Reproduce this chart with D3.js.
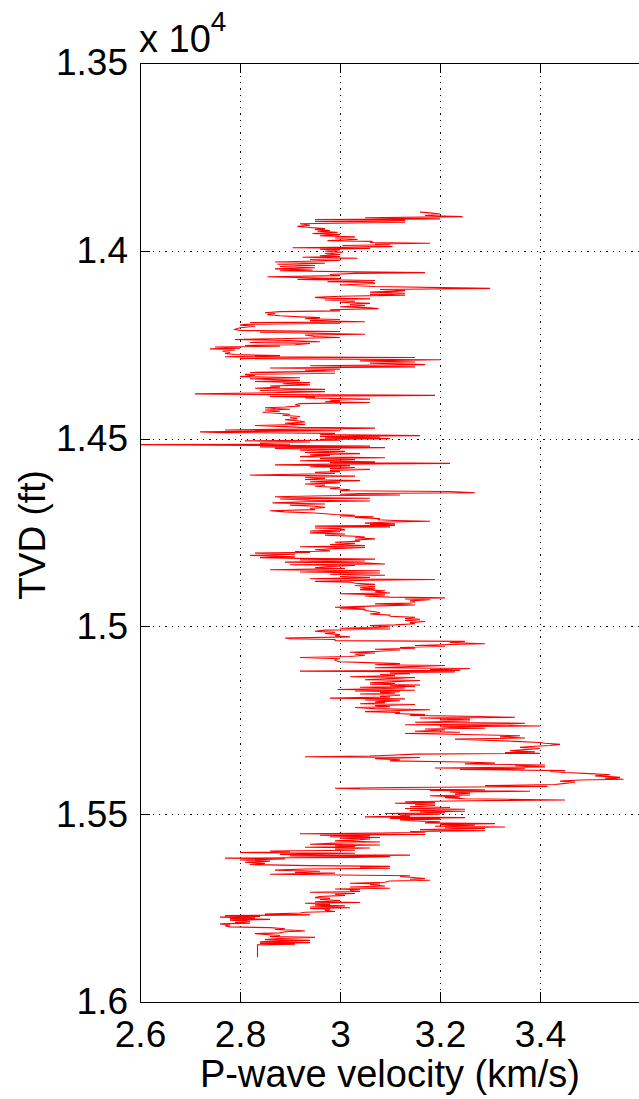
<!DOCTYPE html>
<html>
<head>
<meta charset="utf-8">
<script src="https://cdn.jsdelivr.net/npm/d3@7"></script>
<style>
  html, body { margin: 0; padding: 0; background: #fff; overflow: hidden; }
  svg { display: block; font-family: "Liberation Sans", Arial, Helvetica, sans-serif; }
</style>
</head>
<body>
<svg id="chart" width="639" height="1099"></svg>
<script>
// Axis tick values
const xTicks = [2.6, 2.8, 3.0, 3.2, 3.4];
const yTicks = [13500, 14000, 14500, 15000, 15500, 16000];
const xLabel = "P-wave velocity (km/s)";
const yLabel = "TVD (ft)";

// Sonic log samples: [true vertical depth (ft), P-wave velocity (km/s)]
const logSamples = [
  [13897,3.16],[13899,3.18],[13902,3.20],[13906,3.17],[13909,3.245],[13912,3.05],[13915,3.20],[13917,2.95],
  [13919,3.13],[13922,2.95],[13924,3.13],[13928,2.92],[13932,2.94],[13935,2.915],[13938,2.94],[13941,2.97],
  [13943,2.95],[13946,2.98],[13948,2.955],[13951,2.995],[13954,2.945],[13957,3.0],[13960,2.96],[13963,3.03],
  [13966,2.99],[13970,3.035],[13973,2.975],[13975,3.065],[13978,3.06],[13980,3.18],[13982,3.07],[13984,3.1],
  [13986,3.005],[13989,3.105],[13992,2.905],[13994,3.06],[13996,2.96],[13998,3.0],[14001,2.97],[14004,3.005],
  [14007,2.97],[14010,3.0],[14013,2.96],[14015,3.0],[14017,2.925],[14020,3.035],[14023,2.94],[14026,3.0],
  [14030,2.87],[14033,2.97],[14036,2.875],[14039,2.95],[14042,2.88],[14045,2.95],[14048,2.87],[14051,2.945],
  [14053,2.88],[14056,3.03],[14058,3.17],[14060,3.03],[14063,2.98],[14066,3.0],[14069,2.855],[14071,2.915],
  [14074,3.0],[14076,2.915],[14079,3.07],[14082,2.975],[14084,3.065],[14087,3.07],[14091,3.0],[14095,3.07],
  [14100,3.3],[14103,3.08],[14106,3.13],[14108,3.11],[14110,3.06],[14113,3.13],[14116,3.06],[14118,3.13],
  [14121,3.0],[14124,2.95],[14126,2.97],[14128,3.06],[14131,2.97],[14134,3.03],[14137,3.0],[14140,3.06],
  [14143,3.02],[14146,3.05],[14149,3.0],[14152,3.06],[14154,3.077],[14157,2.98],[14160,3.0],[14162,2.88],
  [14165,2.85],[14167,2.87],[14170,2.855],[14173,2.88],[14176,2.92],[14178,2.96],[14181,2.93],[14183,3.0],
  [14186,2.94],[14189,3.05],[14191,2.82],[14193,3.0],[14196,2.81],[14198,2.80],[14201,2.83],[14205,2.80],
  [14209,2.79],[14212,2.8],[14215,3.0],[14217,2.84],[14220,2.97],[14222,3.05],[14224,2.93],[14228,2.95],
  [14231,3.0],[14234,2.87],[14236,2.79],[14239,2.9],[14242,2.96],[14244,2.82],[14247,2.94],[14250,2.91],
  [14252,2.81],[14254,2.88],[14256,2.75],[14259,2.80],[14261,2.74],[14264,2.79],[14267,2.765],[14270,2.78],
  [14273,2.77],[14276,2.79],[14279,2.88],[14282,2.77],[14284,3.15],[14287,2.8],[14290,3.2],[14293,3.04],
  [14296,3.15],[14299,3.06],[14301,3.12],[14303,3.17],[14306,2.94],[14309,3.15],[14312,2.86],[14315,3.0],
  [14318,2.93],[14320,2.99],[14324,2.82],[14326,2.99],[14329,2.81],[14332,2.83],[14335,2.80],[14338,2.92],
  [14341,2.82],[14345,2.92],[14348,2.83],[14351,2.94],[14354,2.885],[14357,2.94],[14360,2.86],[14363,2.88],
  [14366,2.83],[14369,2.97],[14372,2.84],[14375,2.97],[14378,2.86],[14381,2.71],[14383,2.86],[14384,3.10],
  [14385,3.19],[14388,2.86],[14390,2.95],[14392,2.93],[14395,3.06],[14398,2.98],[14400,3.0],[14402,2.97],
  [14404,3.06],[14407,2.92],[14410,2.91],[14413,2.92],[14416,2.89],[14418,2.85],[14420,2.87],[14422,2.9],
  [14424,2.85],[14427,2.88],[14430,2.845],[14433,2.88],[14435,2.9],[14438,2.885],[14441,2.92],[14444,2.9],
  [14447,2.915],[14450,2.89],[14453,2.92],[14456,2.93],[14459,2.89],[14462,2.93],[14465,2.83],[14468,2.89],
  [14470,2.92],[14472,3.07],[14474,2.97],[14477,2.77],[14479,3.0],[14482,2.72],[14484,2.77],[14486,2.99],
  [14489,2.96],[14492,3.16],[14494,2.96],[14496,3.08],[14498,2.97],[14500,3.1],[14502,2.96],[14504,3.0],
  [14506,2.81],[14509,2.94],[14512,2.84],[14515,2.9],[14516,2.55],[14518,2.84],[14520,3.06],[14522,2.84],
  [14524,3.09],[14526,2.87],[14529,3.0],[14531,2.92],[14534,3.01],[14537,2.93],[14540,3.04],[14543,2.94],
  [14545,2.98],[14548,2.92],[14551,3.09],[14553,2.96],[14556,3.03],[14559,2.92],[14562,3.07],[14564,2.98],
  [14566,3.22],[14568,2.99],[14570,2.87],[14572,3.02],[14575,2.94],[14577,3.03],[14580,2.98],[14582,3.06],
  [14585,2.98],[14588,3.0],[14590,2.95],[14593,2.99],[14597,2.82],[14600,3.03],[14603,2.93],[14606,2.97],
  [14609,2.93],[14612,3.04],[14615,2.94],[14618,3.0],[14621,2.93],[14624,2.97],[14627,2.95],[14630,3.0],
  [14633,2.98],[14636,3.02],[14639,3.0],[14641,3.22],[14644,3.27],[14646,3.04],[14648,3.0],[14650,3.12],
  [14652,2.97],[14655,2.87],[14657,2.89],[14659,3.06],[14661,2.88],[14664,2.94],[14666,3.06],[14668,2.93],
  [14671,2.865],[14674,2.97],[14677,2.9],[14680,2.95],[14683,2.97],[14686,2.94],[14689,2.95],[14692,2.86],
  [14695,2.89],[14698,2.95],[14700,2.97],[14702,2.99],[14704,3.03],[14706,3.0],[14708,3.067],[14710,3.03],
  [14713,3.08],[14716,3.075],[14718,3.11],[14720,3.18],[14722,3.1],[14725,3.05],[14727,3.11],[14729,3.06],
  [14731,3.11],[14733,2.95],[14735,3.1],[14738,2.95],[14740,3.0],[14743,3.01],[14746,2.94],[14748,3.0],
  [14751,2.94],[14754,3.01],[14757,2.97],[14760,3.03],[14762,3.05],[14764,3.03],[14767,3.07],[14770,3.03],
  [14773,3.04],[14776,2.99],[14779,3.03],[14782,2.98],[14785,3.05],[14788,2.92],[14790,3.05],[14793,2.99],
  [14796,2.95],[14799,2.98],[14801,2.91],[14803,2.94],[14805,2.83],[14808,2.91],[14811,2.82],[14813,2.87],
  [14815,2.91],[14817,2.84],[14819,2.92],[14821,3.07],[14823,2.92],[14826,3.05],[14829,2.89],[14831,3.045],
  [14834,3.09],[14836,2.9],[14838,3.03],[14841,2.97],[14844,2.95],[14846,3.01],[14849,2.86],[14852,3.08],
  [14855,2.92],[14858,3.08],[14861,2.98],[14864,3.09],[14867,3.0],[14870,3.06],[14873,2.94],[14875,3.19],
  [14877,3.06],[14880,2.95],[14882,3.02],[14885,3.03],[14888,3.07],[14891,3.03],[14894,3.07],[14897,3.04],
  [14900,3.07],[14902,3.04],[14905,3.09],[14908,3.07],[14911,3.1],[14913,3.0],[14916,3.09],[14919,3.05],
  [14922,3.1],[14924,3.21],[14927,3.13],[14929,3.18],[14932,3.14],[14935,3.15],[14938,3.14],[14940,3.07],
  [14943,3.15],[14946,3.06],[14949,2.99],[14951,3.05],[14953,3.0],[14955,3.05],[14958,3.05],[14961,3.07],
  [14964,3.08],[14967,3.06],[14970,3.1],[14973,3.1],[14976,3.15],[14979,3.13],[14981,3.16],[14984,3.13],
  [14987,3.17],[14990,3.14],[14993,3.15],[14996,3.11],[14998,3.06],[15001,3.1],[15003,3.07],[15005,3.0],
  [15007,3.1],[15010,2.97],[15013,2.95],[15016,2.99],[15019,2.97],[15022,3.0],[15025,2.99],[15028,3.02],
  [15031,2.89],[15033,2.9],[15035,2.99],[15038,2.99],[15040,3.25],[15043,3.22],[15046,3.29],[15048,3.22],
  [15051,3.15],[15053,3.21],[15056,3.12],[15058,3.15],[15061,3.07],[15063,3.12],[15066,3.08],[15069,3.02],
  [15071,3.07],[15074,3.03],[15077,3.05],[15080,3.02],[15083,2.92],[15086,3.0],[15088,2.99],[15091,2.99],
  [15094,3.0],[15097,3.07],[15099,3.12],[15102,3.07],[15104,3.21],[15107,3.14],[15110,3.07],[15112,3.26],
  [15115,3.18],[15117,3.24],[15119,2.92],[15121,3.23],[15124,3.1],[15126,3.14],[15128,3.08],[15131,3.11],
  [15134,3.02],[15136,3.15],[15139,3.1],[15142,3.05],[15144,3.16],[15147,3.11],[15150,3.06],[15152,3.11],
  [15154,3.06],[15156,3.16],[15158,3.1],[15160,3.15],[15162,3.04],[15164,3.13],[15166,3.07],[15168,2.995],
  [15170,3.15],[15172,3.03],[15174,3.12],[15176,3.08],[15178,3.11],[15180,3.04],[15183,3.12],[15186,3.08],
  [15188,3.1],[15191,2.98],[15193,3.13],[15196,3.05],[15198,3.12],[15201,3.07],[15203,3.09],[15206,3.04],
  [15208,3.15],[15211,3.07],[15214,3.1],[15216,3.03],[15219,3.07],[15222,3.18],[15224,3.12],[15227,3.05],
  [15229,3.12],[15232,3.11],[15235,3.17],[15237,3.14],[15240,3.28],[15242,3.35],[15244,3.16],[15247,3.26],
  [15249,3.2],[15252,3.26],[15255,3.15],[15258,3.37],[15260,3.34],[15262,3.13],[15265,3.4],[15267,3.2],
  [15269,3.22],[15271,3.29],[15273,3.17],[15276,3.21],[15279,3.15],[15282,3.24],[15285,3.13],[15288,3.25],
  [15291,3.36],[15294,3.32],[15297,3.37],[15300,3.23],[15303,3.29],[15306,3.35],[15309,3.4],[15311,3.41],
  [15314,3.44],[15317,3.42],[15319,3.39],[15322,3.36],[15325,3.4],[15328,3.37],[15331,3.34],[15334,3.39],
  [15336,3.33],[15338,3.4],[15340,3.15],[15343,3.1],[15345,3.06],[15347,2.93],[15349,3.16],[15352,3.07],
  [15355,3.12],[15358,3.1],[15361,3.25],[15364,3.31],[15366,3.25],[15369,3.41],[15371,3.35],[15374,3.41],
  [15377,3.19],[15379,3.37],[15381,3.24],[15384,3.45],[15386,3.42],[15389,3.45],[15392,3.5],[15395,3.54],
  [15398,3.51],[15400,3.54],[15402,3.56],[15404,3.53],[15407,3.567],[15409,3.48],[15412,3.44],[15415,3.47],
  [15418,3.45],[15421,3.43],[15424,3.29],[15426,3.415],[15429,3.12],[15431,2.99],[15433,3.04],[15435,3.29],
  [15437,3.18],[15439,3.38],[15441,3.22],[15444,3.26],[15446,3.23],[15449,3.26],[15451,3.18],[15454,3.24],
  [15456,3.21],[15459,3.25],[15462,3.45],[15464,3.26],[15467,3.13],[15469,3.19],[15471,3.11],[15473,3.19],
  [15475,3.15],[15477,3.19],[15480,3.14],[15482,3.22],[15485,3.13],[15487,3.25],[15490,3.14],[15492,3.25],
  [15494,3.16],[15496,3.21],[15498,3.09],[15500,3.2],[15502,3.12],[15505,3.14],[15507,3.05],[15509,3.25],
  [15511,3.1],[15513,3.2],[15515,3.12],[15518,3.15],[15520,3.2],[15523,3.17],[15525,3.31],[15527,3.2],
  [15529,3.27],[15532,3.19],[15534,3.33],[15536,3.21],[15538,3.29],[15541,3.16],[15544,3.29],[15546,3.14],
  [15548,3.17],[15550,3.08],[15552,2.92],[15554,3.17],[15556,2.96],[15558,3.06],[15560,2.98],[15562,3.08],
  [15564,3.0],[15566,3.06],[15568,3.04],[15571,2.99],[15574,3.08],[15577,2.99],[15580,2.94],[15582,3.08],
  [15584,2.99],[15586,3.03],[15588,2.93],[15590,3.06],[15593,2.99],[15596,3.03],[15598,2.86],[15600,2.9],
  [15602,2.8],[15604,3.03],[15607,2.88],[15609,3.14],[15611,2.9],[15613,3.1],[15615,3.03],[15617,2.77],
  [15619,2.89],[15622,2.8],[15625,2.86],[15628,2.81],[15631,2.85],[15634,2.82],[15637,2.94],[15639,3.1],
  [15641,3.04],[15644,3.1],[15646,2.93],[15649,2.87],[15652,2.96],[15655,2.91],[15657,2.99],[15660,2.86],
  [15662,3.0],[15664,3.14],[15666,3.12],[15668,3.14],[15671,3.17],[15673,3.14],[15676,3.18],[15678,3.1],
  [15681,3.09],[15684,3.02],[15686,3.08],[15688,3.06],[15691,3.09],[15694,3.02],[15697,3.1],[15699,2.99],
  [15701,3.04],[15703,3.02],[15706,3.04],[15708,2.94],[15711,3.03],[15713,2.99],[15716,3.01],[15719,2.96],
  [15722,2.95],[15724,2.98],[15727,2.96],[15730,3.0],[15733,2.95],[15735,3.04],[15737,2.93],[15740,2.98],
  [15742,2.95],[15744,3.01],[15747,2.94],[15749,3.02],[15751,2.94],[15753,2.98],[15756,2.97],[15759,2.99],
  [15761,2.93],[15763,2.92],[15766,2.85],[15768,2.94],[15770,2.77],[15772,2.84],[15774,2.76],[15776,2.83],
  [15778,2.78],[15780,2.86],[15782,2.78],[15785,2.82],[15788,2.79],[15790,2.82],[15792,2.76],[15795,2.78],
  [15797,2.77],[15800,2.78],[15802,2.86],[15805,2.89],[15807,2.87],[15809,2.91],[15811,2.93],[15813,2.89],
  [15816,2.88],[15818,2.83],[15821,2.86],[15823,2.88],[15826,2.86],[15828,2.95],[15831,2.88],[15834,2.85],
  [15836,2.94],[15838,2.88],[15840,2.84],[15842,2.94],[15844,2.84],[15846,2.91],[15848,2.835],[15865,2.835],
  [15881,2.835]
];

const svg = d3.select("#chart");
const margin = { left: 140, top: 63, right: 640, bottom: 1002 };
const fontSize = 37;

const x = d3.scaleLinear().domain([2.6, 3.6]).range([margin.left, margin.right]);
const y = d3.scaleLinear().domain([13500, 16000]).range([margin.top, margin.bottom]);

// Plot area clip
svg.append("defs").append("clipPath").attr("id", "plot-clip")
  .append("rect")
  .attr("x", margin.left).attr("y", margin.top)
  .attr("width", margin.right - margin.left).attr("height", margin.bottom - margin.top);

// Dotted grid
const grid = svg.append("g").attr("stroke", "#000").attr("stroke-width", 1)
  .attr("stroke-dasharray", "1.3,5").attr("shape-rendering", "crispEdges");
grid.selectAll("line.gx").data(xTicks.slice(1)).join("line").attr("class", "gx")
  .attr("x1", d => Math.round(x(d)) + 0.5).attr("x2", d => Math.round(x(d)) + 0.5)
  .attr("y1", margin.top).attr("y2", margin.bottom);
grid.selectAll("line.gy").data(yTicks.slice(1, -1)).join("line").attr("class", "gy")
  .attr("y1", d => Math.round(y(d)) + 0.5).attr("y2", d => Math.round(y(d)) + 0.5)
  .attr("x1", margin.left).attr("x2", margin.right);

// Velocity trace
const line = d3.line().x(d => x(d[1])).y(d => y(d[0]));
svg.append("path")
  .datum(logSamples)
  .attr("clip-path", "url(#plot-clip)")
  .attr("fill", "none")
  .attr("stroke", "#ff0000")
  .attr("stroke-width", 1.1)
  .attr("stroke-linejoin", "miter")
  .attr("d", line);

// Axes (ticks point inward)
const xAxis = d3.axisBottom(x).tickValues(xTicks)
  .tickFormat(d3.format("~g")).tickSizeInner(-10).tickSizeOuter(0).tickPadding(19);
const yAxis = d3.axisLeft(y).tickValues(yTicks)
  .tickFormat(d => d3.format("~g")(d / 1e4)).tickSizeInner(-10).tickSizeOuter(0).tickPadding(12);

const gx = svg.append("g").attr("transform", `translate(0,${margin.bottom})`).call(xAxis);
const gy = svg.append("g").attr("transform", `translate(${margin.left},0)`).call(yAxis);
[gx, gy].forEach(g => {
  g.select(".domain").remove();
  g.selectAll(".tick line").attr("stroke", "#000").attr("shape-rendering", "crispEdges");
  g.selectAll(".tick text").attr("fill", "#000")
    .style("font-size", fontSize + "px")
    .style("font-family", '"Liberation Sans", Arial, Helvetica, sans-serif');
});

// Mirror ticks on the top edge
const xTop = d3.axisTop(x).tickValues(xTicks).tickFormat("").tickSizeInner(-10).tickSizeOuter(0);
svg.append("g").attr("transform", `translate(0,${margin.top})`).call(xTop)
  .call(g => g.select(".domain").remove())
  .selectAll(".tick line").attr("stroke", "#000").attr("shape-rendering", "crispEdges");

// Axes box
svg.append("rect")
  .attr("x", margin.left + 0.5).attr("y", margin.top + 0.5)
  .attr("width", margin.right - margin.left).attr("height", margin.bottom - margin.top)
  .attr("fill", "none").attr("stroke", "#000").attr("stroke-width", 1)
  .attr("shape-rendering", "crispEdges");

// Axis titles
svg.append("text")
  .attr("x", 390).attr("y", 1087)
  .attr("text-anchor", "middle").style("font-size", "38px")
  .text(xLabel);

svg.append("text")
  .attr("transform", "translate(45,535) rotate(-90)")
  .attr("text-anchor", "middle").style("font-size", fontSize + "px")
  .text(yLabel);

// Exponent multiplier for the depth axis
const mult = svg.append("text").attr("x", 139).attr("y", 52).style("font-size", "38px");
mult.append("tspan").text("x 10");
mult.append("tspan").attr("dy", -21).style("font-size", "28px").text("4");
</script>
</body>
</html>
